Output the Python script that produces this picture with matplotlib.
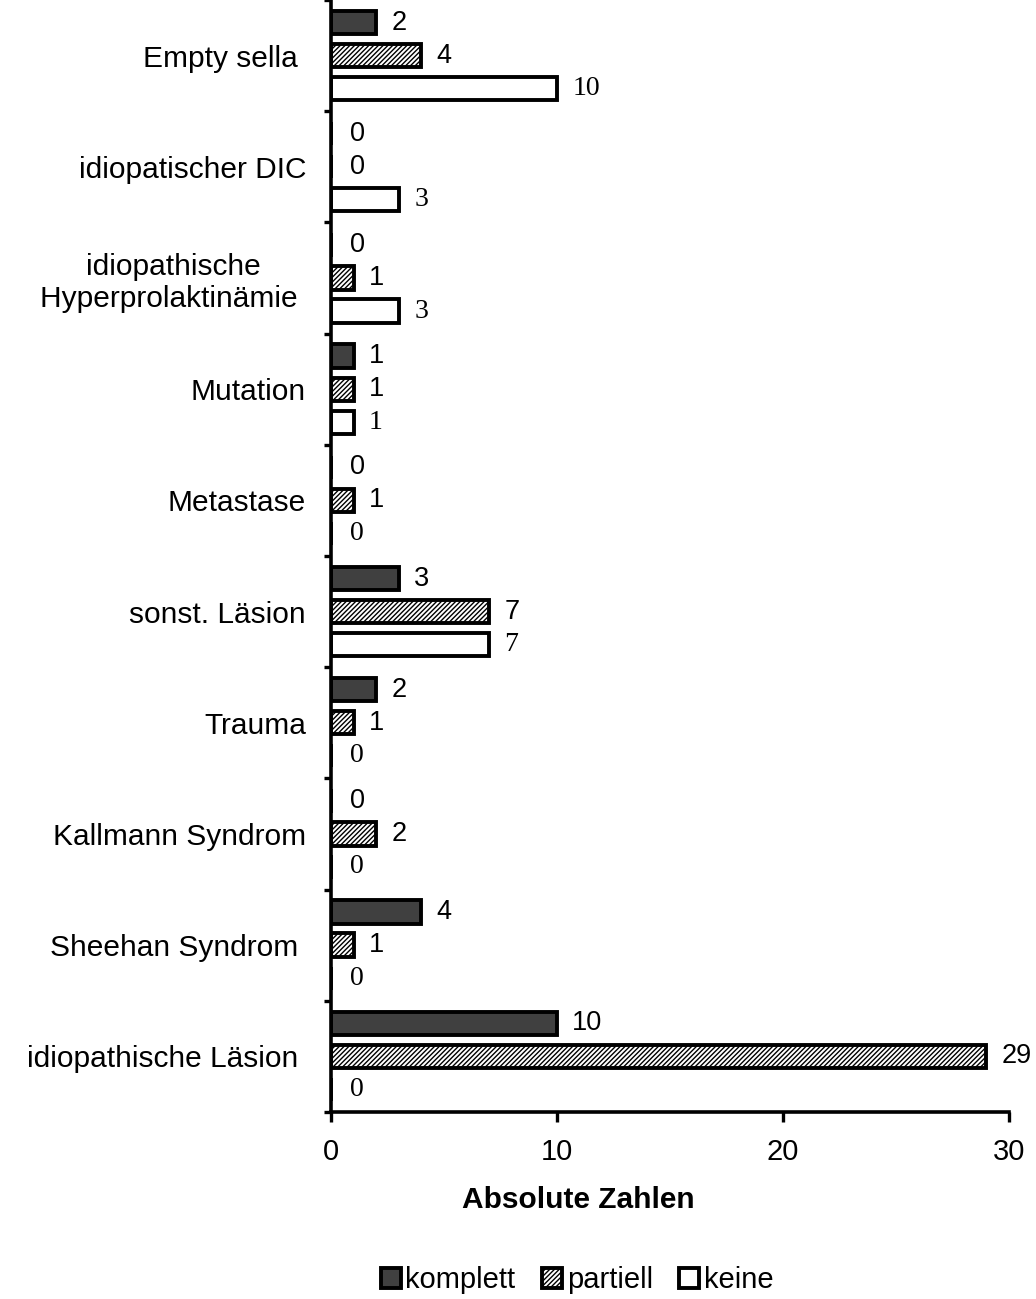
import matplotlib
matplotlib.use("Agg")
import matplotlib.pyplot as plt
import numpy as np

plt.rcParams['font.family'] = ['Liberation Sans', 'DejaVu Sans']
plt.rcParams['hatch.linewidth'] = 1.0

categories = ['idiopathische Läsion ', 'Sheehan Syndrom ', 'Kallmann Syndrom',
              'Trauma', 'sonst. Läsion', 'Metastase', 'Mutation',
              'idiopathische\nHyperprolaktinämie ', 'idiopatischer DIC', 'Empty sella ']
komplett = [10, 4, 0, 2, 3, 0, 1, 0, 0, 2]
partiell = [29, 1, 2, 1, 7, 1, 1, 1, 0, 4]
keine = [0, 0, 0, 0, 7, 0, 1, 3, 3, 10]
series_names = ['komplett', 'partiell', 'keine']

fig = plt.figure(figsize=(10.36, 12.99), dpi=100)
ax = fig.add_axes([0.3195, 0.144, 0.6544, 0.856])

y = np.arange(len(categories))
off = 0.297
h = 0.21
lw = 2.8

b1 = ax.barh(y + off, komplett, height=h, color='#404040', edgecolor='black', linewidth=lw)
b2 = ax.barh(y, partiell, height=h, color='white', edgecolor='black', linewidth=lw, hatch='///////')
b3 = ax.barh(y - off, keine, height=h, color='white', edgecolor='black', linewidth=lw)

# value labels: sans for komplett/partiell, serif for keine
for vals, pos, fam in [(komplett, y + off, 'Liberation Sans'),
                       (partiell, y, 'Liberation Sans'),
                       (keine, y - off, 'Liberation Serif')]:
    for v, p in zip(vals, pos):
        dx = 14 if v == 0 else 11
        ax.annotate(str(v), (v, p), xytext=(dx, 0), textcoords='offset points',
                    ha='left', va='center', fontsize=19.5 if fam != 'Liberation Serif' else 20,
                    family=fam)

ax.set_xlim(0, 30)
ax.set_ylim(-0.5, len(categories) - 0.5)
ax.set_xticks([0, 10, 20, 30])
ax.set_yticks(np.arange(-0.5, len(categories), 1.0))
ax.set_yticklabels([])
ax.set_yticks(y, minor=True)
ax.set_yticklabels(categories, minor=True, fontsize=21.5, multialignment='center')
ax.tick_params(axis='y', which='minor', length=0, pad=18)
ax.tick_params(axis='y', which='major', length=5, width=2.4, direction='out')
ax.tick_params(axis='x', length=7, width=2.4, direction='out', labelsize=21, pad=12)

for s in ['top', 'right']:
    ax.spines[s].set_visible(False)
for s in ['left', 'bottom']:
    ax.spines[s].set_linewidth(2.6)

fig.text(0.558, 0.0762, 'Absolute Zahlen', fontsize=21.5, fontweight='bold',
         ha='center', va='center')

fig.legend([b1, b2, b3], series_names, loc='center', bbox_to_anchor=(0.557, 0.0146),
           ncol=3, frameon=False, fontsize=21, handlelength=0.7, handleheight=0.7,
           handletextpad=0.15, columnspacing=0.9)

fig.savefig('out.png', dpi=100)
